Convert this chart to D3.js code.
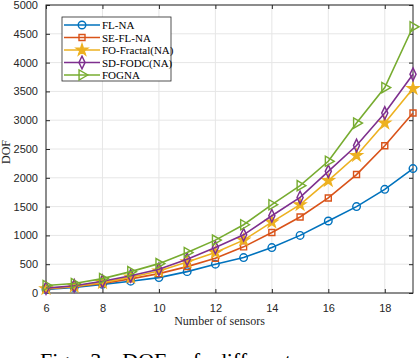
<!DOCTYPE html>
<meta charset="utf-8">
<style>
  body { margin: 0; background: #fff; }
  svg { display: block; }
  .tick text { font-family: "Liberation Sans", Arial, sans-serif; font-size: 11px; fill: #262626; }
</style>
<body></body>
<script src="https://cdn.jsdelivr.net/npm/d3@7"></script>
<script>
  const width = 420
  const height = 358
  const margin = { top: 5, right: 7, bottom: 65, left: 46 }

  // number of sensors
  const sensors = [6, 7, 8, 9, 10, 11, 12, 13, 14, 15, 16, 17, 18, 19]
  const flNA = [60, 95, 150, 205, 267, 371, 500, 615, 789, 1000, 1250, 1500, 1800, 2160]
  const seFlNA = [70, 110, 165, 245, 336, 458, 604, 801, 1050, 1320, 1650, 2056, 2556, 3124]
  const foFractal = [75, 115, 180, 275, 383, 540, 702, 918, 1230, 1533, 1951, 2387, 2950, 3549]
  const sdFodc = [85, 125, 205, 300, 413, 587, 789, 1010, 1341, 1660, 2113, 2560, 3124, 3798]
  const fogna = [130, 165, 250, 371, 510, 702, 918, 1185, 1533, 1864, 2287, 2950, 3566, 4622]
  const xTicks = [6, 8, 10, 12, 14, 16, 18]
  const yTicks = d3.range(0, 5001, 500)

  const series = [
    { name: "FL-NA", values: flNA, color: "#0072BD", marker: "circle" },
    { name: "SE-FL-NA", values: seFlNA, color: "#D95319", marker: "square" },
    { name: "FO-Fractal(NA)", values: foFractal, color: "#EDB120", marker: "star" },
    { name: "SD-FODC(NA)", values: sdFodc, color: "#7E2F8E", marker: "diamond" },
    { name: "FOGNA", values: fogna, color: "#77AC30", marker: "triangle" }
  ]

  const iw = width - margin.left - margin.right
  const ih = height - margin.top - margin.bottom

  const x = d3.scaleLinear().domain([6, 19]).range([0, iw])
  const y = d3.scaleLinear().domain([0, 5000]).range([ih, 0])

  const svg = d3.select("body").append("svg")
    .attr("width", width)
    .attr("height", height)

  const g = svg.append("g")
    .attr("transform", `translate(${margin.left},${margin.top})`)

  // grid
  g.append("g").selectAll("line")
    .data(xTicks)
    .join("line")
    .attr("x1", d => x(d)).attr("x2", d => x(d))
    .attr("y1", 0).attr("y2", ih)
    .attr("stroke", "#e6e6e6").attr("stroke-width", 1)

  g.append("g").selectAll("line")
    .data(yTicks)
    .join("line")
    .attr("x1", 0).attr("x2", iw)
    .attr("y1", d => y(d)).attr("y2", d => y(d))
    .attr("stroke", "#e6e6e6").attr("stroke-width", 1)

  // axes, ticks pointing inside like matlab
  const styleAxis = sel => {
    sel.select(".domain").remove()
    sel.selectAll(".tick line").attr("stroke", "#262626")
  }
  const fmt = d3.format("d")

  g.append("g")
    .attr("transform", `translate(0,${ih})`)
    .call(d3.axisBottom(x).tickValues(xTicks).tickFormat(fmt).tickSizeInner(-4).tickSizeOuter(0).tickPadding(11))
    .call(styleAxis)

  g.append("g")
    .call(d3.axisTop(x).tickValues(xTicks).tickSizeInner(-4).tickSizeOuter(0).tickFormat(""))
    .call(styleAxis)

  g.append("g")
    .call(d3.axisLeft(y).tickValues(yTicks).tickFormat(fmt).tickSizeInner(-4).tickSizeOuter(0).tickPadding(8))
    .call(styleAxis)

  g.append("g")
    .attr("transform", `translate(${iw},0)`)
    .call(d3.axisRight(y).tickValues(yTicks).tickSizeInner(-4).tickSizeOuter(0).tickFormat(""))
    .call(styleAxis)

  g.append("rect")
    .attr("width", iw).attr("height", ih)
    .attr("fill", "none")
    .attr("stroke", "#262626")
    .attr("stroke-width", 1)

  const symbolOf = {
    circle: d3.symbol(d3.symbolCircle, 45),
    square: d3.symbol(d3.symbolSquare, 36),
    star: d3.symbol(d3.symbolStar, 40),
    diamond: d3.symbol(d3.symbolDiamond, 32),
    triangle: d3.symbol(d3.symbolTriangle, 45)
  }

  function drawMarker(sel, s, cx, cy) {
    const p = sel.append("path")
      .attr("d", symbolOf[s.marker]())
      .attr("fill", s.marker === "star" ? s.color : "none")
      .attr("stroke", s.color)
      .attr("stroke-width", 1.4)
    if (s.marker === "triangle") {
      p.attr("transform", `translate(${cx},${cy}) rotate(90)`)
    } else if (s.marker === "diamond") {
      p.attr("transform", `translate(${cx},${cy}) scale(1,1.2)`)
    } else {
      p.attr("transform", `translate(${cx},${cy})`)
    }
  }

  const line = d3.line()
    .x((d, i) => x(sensors[i]))
    .y(d => y(d))

  series.forEach(s => {
    g.append("path")
      .datum(s.values)
      .attr("fill", "none")
      .attr("stroke", s.color)
      .attr("stroke-width", 1.6)
      .attr("d", line)

    const mg = g.append("g")
    s.values.forEach((v, i) => drawMarker(mg, s, x(sensors[i]), y(v)))
  })

  // labels
  svg.append("text")
    .attr("x", margin.left + iw / 2 - 10)
    .attr("y", 325)
    .attr("text-anchor", "middle")
    .attr("font-family", "Liberation Serif, Times New Roman, serif")
    .attr("font-size", 12)
    .attr("fill", "#262626")
    .text("Number of sensors")

  svg.append("text")
    .attr("transform", `translate(10,152) rotate(-90)`)
    .attr("text-anchor", "middle")
    .attr("font-family", "Liberation Serif, Times New Roman, serif")
    .attr("font-size", 12)
    .attr("fill", "#262626")
    .text("DOF")

  // legend
  const legend = svg.append("g").attr("transform", "translate(62,17)")
  legend.append("rect")
    .attr("width", 109).attr("height", 64)
    .attr("fill", "#fff")
    .attr("stroke", "#262626")
    .attr("stroke-width", 0.8)

  series.forEach((s, i) => {
    const ly = 8 + i * 12.5
    legend.append("line")
      .attr("x1", 2).attr("x2", 38)
      .attr("y1", ly).attr("y2", ly)
      .attr("stroke", s.color)
      .attr("stroke-width", 1.6)
    drawMarker(legend, s, 20, ly)
    legend.append("text")
      .attr("x", 40)
      .attr("y", ly + 4)
      .attr("font-family", "Liberation Serif, Times New Roman, serif")
      .attr("font-size", 11)
      .attr("fill", "#000")
      .text(s.name)
  })

  // caption, partly cut by the bottom edge as in the source image
  svg.append("text")
    .attr("x", 40)
    .attr("y", 368)
    .attr("font-family", "Liberation Serif, Times New Roman, serif")
    .attr("font-size", 22)
    .attr("word-spacing", 10)
    .attr("fill", "#000")
    .text("Fig. 3.  DOF of different sensors")
</script>
